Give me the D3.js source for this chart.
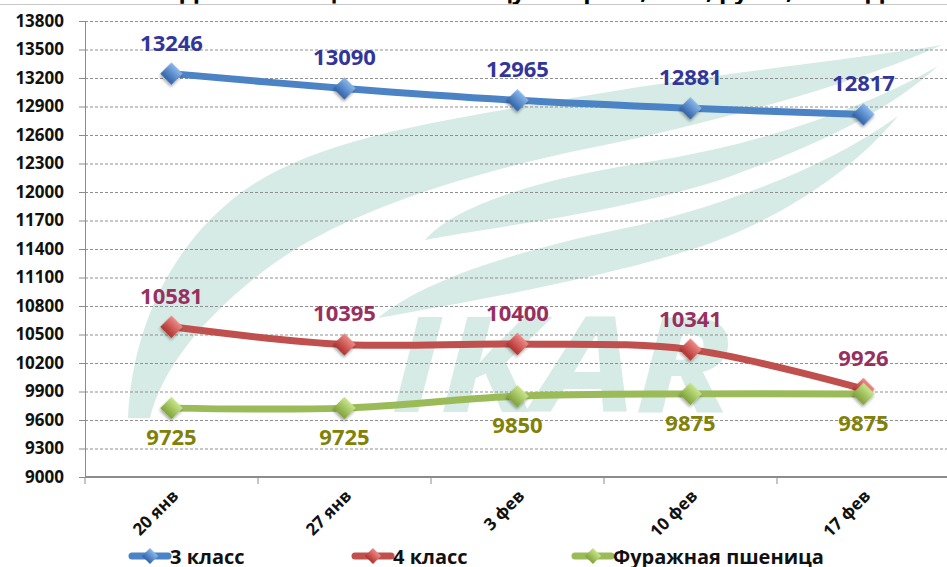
<!DOCTYPE html>
<html>
<head>
<meta charset="utf-8">
<script src="https://cdn.jsdelivr.net/npm/d3@7"></script>
<style>
  body { margin: 0; background: #fff; }
  svg { display: block; font-family: "Open Sans", "Liberation Sans", sans-serif; }
</style>
</head>
<body>
<svg class="chart"></svg>
<script>
// chart data
var categories = ["20 янв", "27 янв", "3 фев", "10 фев", "17 фев"];
var seriesNames = ["3 класс", "4 класс", "Фуражная пшеница"];
var class3 = [13246, 13090, 12965, 12881, 12817];
var class4 = [10581, 10395, 10400, 10341, 9926];
var feed = [9725, 9725, 9850, 9875, 9875];
var yTicks = d3.range(9000, 13801, 300);
var title = "Динамика цен на пшеницу в портах, EXW, руб/т, без НДС";

// size of the SVG
var width = 947;
var height = 567;

// plot area
var plot = { left: 85, right: 950, top: 21, bottom: 477 };

var series = [
  { name: seriesNames[0], values: class3, line: "#4c83c4", light: "#8ab8ec", dark: "#2f62a8", label: "#32359a", above: true },
  { name: seriesNames[1], values: class4, line: "#c0504d", light: "#ee8a86", dark: "#b0302c", label: "#98305f", above: true },
  { name: seriesNames[2], values: feed, line: "#9bbb59", light: "#c8e68a", dark: "#7fa23a", label: "#818106", above: false }
];

var svg = d3.select(".chart")
    .attr("width", width)
    .attr("height", height);

var defs = svg.append("defs");

// soft shadow under markers
defs.append("filter")
    .attr("id", "shadow")
    .attr("x", "-50%").attr("y", "-50%")
    .attr("width", "200%").attr("height", "200%")
  .append("feDropShadow")
    .attr("dx", 1)
    .attr("dy", 2)
    .attr("stdDeviation", 1.5)
    .attr("flood-opacity", 0.35);

series.forEach(function(s, i) {
  var g = defs.append("linearGradient")
      .attr("id", "grad" + i)
      .attr("x1", 0).attr("y1", 0)
      .attr("x2", 0).attr("y2", 1);
  g.append("stop").attr("offset", "0%").attr("stop-color", s.light);
  g.append("stop").attr("offset", "100%").attr("stop-color", s.dark);
});

var x = d3.scaleBand()
    .domain(categories)
    .range([plot.left, plot.right])
    .padding(0);

var y = d3.scaleLinear()
    .domain([9000, 13800])
    .range([plot.bottom, plot.top]);

function cx(d) { return x(d) + x.bandwidth() / 2; }

// title, mostly cut off by the top edge
svg.append("text")
    .attr("x", 540)
    .attr("y", -1)
    .attr("text-anchor", "middle")
    .attr("style", "font-size: 24px; font-weight: bold; fill: #000;")
    .text(title);

svg.append("line")
    .attr("x1", 0).attr("x2", width)
    .attr("y1", 4.5).attr("y2", 4.5)
    .attr("stroke", "#c8c8c8")
    .attr("stroke-width", 1);

// IKAR watermark behind the plot
var mark = svg.append("g")
    .attr("class", "watermark")
    .attr("fill", "#d6ebe5");

mark.append("path")
    .attr("d", "M128,418 C132,330 170,240 252,185 C330,135 450,120 560,100 " +
               "C700,75 850,60 942,45 C860,82 720,122 580,150 " +
               "C440,180 330,220 265,270 C200,320 162,370 150,418 Z");
mark.append("path")
    .attr("d", "M425,240 C460,200 560,175 660,160 C780,140 880,100 938,66 " +
               "C890,110 820,145 720,180 C620,212 500,226 425,240 Z");
mark.append("path")
    .attr("d", "M378,318 C430,275 540,245 640,225 C740,200 830,165 898,116 " +
               "C850,175 770,225 690,250 C600,278 480,300 378,318 Z");
mark.append("g")
    .attr("transform", "translate(390,412) scale(1.22,1)")
  .append("text")
    .attr("style", "font-size: 132px; font-weight: bold; font-style: italic; letter-spacing: -2px;")
    .text("IKAR");

// horizontal dashed gridlines
svg.append("g")
    .attr("class", "grid")
  .selectAll("line")
  .data(yTicks.slice(1))
  .enter().append("line")
    .attr("x1", plot.left)
    .attr("x2", width)
    .attr("y1", function(d) { return y(d) + 0.5; })
    .attr("y2", function(d) { return y(d) + 0.5; })
    .attr("stroke", "#8f8f8f")
    .attr("stroke-width", 1)
    .attr("stroke-dasharray", "3,2");

// y axis
var yAxis = svg.append("g")
    .attr("transform", "translate(" + plot.left + ",0)")
    .call(d3.axisLeft(y)
      .tickValues(yTicks)
      .tickSize(6)
      .tickPadding(15)
      .tickFormat(d3.format("d")));
yAxis.select(".domain").attr("stroke", "#8c8c8c");
yAxis.selectAll(".tick line").attr("stroke", "#8c8c8c");
yAxis.selectAll(".tick text")
    .attr("fill", "#111")
    .attr("style", "font-size: 17px; font-weight: bold; font-family: 'Open Sans', sans-serif;");

// x axis: line, ticks between categories, rotated labels
var xAxis = svg.append("g").attr("class", "xaxis");
xAxis.append("line")
    .attr("x1", plot.left).attr("x2", width)
    .attr("y1", plot.bottom).attr("y2", plot.bottom)
    .attr("stroke", "#8c8c8c")
    .attr("stroke-width", 2);
xAxis.selectAll("line.tick")
  .data(categories)
  .enter().append("line")
    .attr("class", "tick")
    .attr("x1", function(d) { return x(d); })
    .attr("x2", function(d) { return x(d); })
    .attr("y1", plot.bottom)
    .attr("y2", plot.bottom + 7)
    .attr("stroke", "#8c8c8c");
xAxis.selectAll("text")
  .data(categories)
  .enter().append("text")
    .attr("text-anchor", "end")
    .attr("transform", function(d) {
      return "translate(" + (cx(d) + 8) + "," + (plot.bottom + 20) + ") rotate(-45)";
    })
    .attr("style", "font-size: 17px; font-weight: bold; fill: #111;")
    .text(function(d) { return d; });

// smoothed lines, like excel's
var line = d3.line()
    .x(function(d, i) { return cx(categories[i]); })
    .y(function(d) { return y(d); })
    .curve(d3.curveCatmullRom.alpha(0.5));

var diamond = d3.symbol().type(d3.symbolSquare).size(250);

series.forEach(function(s, i) {
  var g = svg.append("g").attr("class", "series");

  g.append("path")
      .datum(s.values)
      .attr("fill", "none")
      .attr("stroke", s.line)
      .attr("stroke-width", 7)
      .attr("stroke-linejoin", "round")
      .attr("d", line);

  g.selectAll("path.marker")
    .data(s.values)
    .enter().append("path")
      .attr("class", "marker")
      .attr("d", diamond)
      .attr("transform", function(d, j) {
        return "translate(" + cx(categories[j]) + "," + y(d) + ") rotate(45)";
      })
      .attr("fill", "url(#grad" + i + ")")
      .attr("filter", "url(#shadow)");
});

// data labels on top of everything
series.forEach(function(s) {
  svg.append("g").selectAll("text")
    .data(s.values)
    .enter().append("text")
      .attr("x", function(d, j) { return cx(categories[j]); })
      .attr("y", function(d) { return y(d) + (s.above ? -23 : 37); })
      .attr("text-anchor", "middle")
      .attr("fill", s.label)
      .attr("style", "font-size: 22px; font-weight: bold;")
      .text(function(d) { return d; });
});

// legend along the bottom
var legendX = [132, 355, 575];
var legend = svg.append("g").attr("class", "legend");
series.forEach(function(s, i) {
  var item = legend.append("g")
      .attr("transform", "translate(" + legendX[i] + ",556)");
  item.append("line")
      .attr("x1", 0).attr("x2", 36)
      .attr("y1", 0).attr("y2", 0)
      .attr("stroke", s.line)
      .attr("stroke-width", 7)
      .attr("stroke-linecap", "round");
  item.append("path")
      .attr("d", d3.symbol().type(d3.symbolSquare).size(130))
      .attr("transform", "translate(18,0) rotate(45)")
      .attr("fill", "url(#grad" + i + ")");
  item.append("text")
      .attr("x", 38)
      .attr("y", 8)
      .attr("style", "font-size: 20px; font-weight: bold; fill: #111;")
      .text(s.name);
});
</script>
</body>
</html>
